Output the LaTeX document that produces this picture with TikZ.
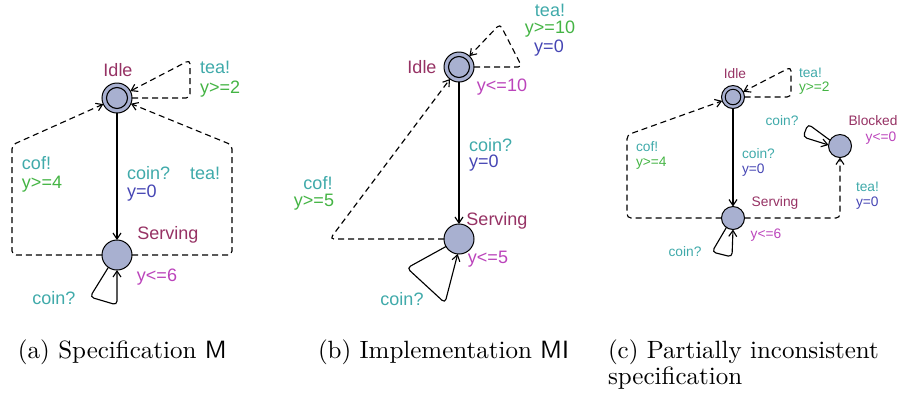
\documentclass[tikz,border=0pt]{standalone}
\usepackage{fontspec}
\newfontfamily\uppfont{Liberation Sans}
\usepackage{tikz}
\usetikzlibrary{arrows.meta,positioning}
\definecolor{locfill}{RGB}{168,176,208}
\definecolor{chancol}{RGB}{64,170,170}
\definecolor{guardcol}{RGB}{68,180,68}
\definecolor{assigncol}{RGB}{70,70,180}
\definecolor{invcol}{RGB}{187,68,187}
\definecolor{namecol}{RGB}{150,50,100}
\newcommand{\bigsize}{\fontsize{7.2}{8.6}\selectfont}
\newcommand{\smallsize}{\fontsize{5.5}{6.6}\selectfont}

\begin{document}
\begin{tikzpicture}[x=0.4pt, y=-0.4pt, outer sep=0pt]
\tikzstyle{loc}=[
                  circle,
                  draw=black,
                  fill=locfill,
                  inner sep=0pt,
                  minimum size=12pt]
\tikzstyle{sloc}=[loc, minimum size=9.2pt]
\tikzstyle{edge}=[
                  -{Straight Barb[length=2.4pt,width=3.2pt]},
                  line width=0.45pt,
                  rounded corners=1.6pt]
\tikzstyle{dedge}=[edge, dash pattern=on 2.4pt off 1.6pt]
\tikzstyle{lbl}=[inner sep=0pt, font=\uppfont\bigsize]
\tikzstyle{slbl}=[inner sep=0pt, font=\uppfont\smallsize]
\tikzstyle{caption}=[inner sep=0pt, anchor=west, font=\normalsize]

\useasboundingbox (0,0) rectangle (901,396);

% (a) specification
\node[loc] (idleA) at (117,98)  {};
\node[loc] (servA) at (117,255) {};
\draw[line width=0.45pt] (idleA.center) circle[radius=4.2pt];

\draw[edge]  (idleA) -- (servA);
\draw[dedge] (idleA.east) -- (190,98) -- (190,60) -- (idleA);
\draw[dedge] (servA.west) -- (12,255) -- (12,145) -- (idleA);
\draw[dedge] (servA.east) -- (232,255) -- (232,145) -- (idleA);
\draw[edge]  (servA.235) -- (90,297) -- (117,305) -- (servA.south);

\node[lbl,text=namecol]               at (118,70)  {Idle};
\node[lbl,text=chancol,anchor=west]   at (200,67)  {tea!};
\node[lbl,text=guardcol,anchor=west]  at (200,89)  {y>=2};
\node[lbl,text=chancol,anchor=west]   at (22,163)  {cof!};
\node[lbl,text=guardcol,anchor=west]  at (22,184)  {y>=4};
\node[lbl,text=chancol,anchor=west]   at (127,173) {coin?};
\node[lbl,text=assigncol,anchor=west] at (127,193) {y=0};
\node[lbl,text=chancol,anchor=west]   at (190,173) {tea!};
\node[lbl,text=namecol]               at (168,235) {Serving};
\node[lbl,text=invcol]                at (157,277) {y<=6};
\node[lbl,text=chancol]               at (54,298)  {coin?};

% (b) implementation
\node[loc] (idleB) at (459,67)  {};
\node[loc] (servB) at (459,239) {};
\draw[line width=0.45pt] (idleB.center) circle[radius=4.2pt];

\draw[edge]  (idleB) -- (servB);
\draw[dedge] (idleB.east) -- (522,67) -- (500,24) -- (idleB);
\draw[dedge] (servB.west) -- (330,239) -- (idleB);
\draw[edge]  (servB.210) -- (407,268) -- (445,303) -- (servB.265);

\node[lbl,text=namecol]               at (422,67)  {Idle};
\node[lbl,text=invcol]                at (502,87)  {y<=10};
\node[lbl,text=chancol]               at (550,10)  {tea!};
\node[lbl,text=guardcol]              at (550,29)  {y>=10};
\node[lbl,text=assigncol]             at (549,48)  {y=0};
\node[lbl,text=chancol,anchor=west]   at (469,145) {coin?};
\node[lbl,text=assigncol,anchor=west] at (469,163) {y=0};
\node[lbl,text=chancol]               at (318,183) {cof!};
\node[lbl,text=guardcol]              at (314,202) {y>=5};
\node[lbl,text=namecol]               at (497,221) {Serving};
\node[lbl,text=invcol]                at (488,259) {y<=5};
\node[lbl,text=chancol]               at (402,299) {coin?};

% (c) partially inconsistent
\node[sloc] (idleC)  at (733,97)  {};
\node[sloc] (servC)  at (733,218) {};
\node[sloc] (blockC) at (840,146) {};
\draw[line width=0.4pt] (idleC.center) circle[radius=3.1pt];

\draw[edge]  (idleC) -- (servC);
\draw[dedge] (idleC.east) -- (791,97) -- (791,67) -- (idleC);
\draw[dedge] (servC.west) -- (627,218) -- (627,135) -- (idleC);
\draw[dedge] (servC.east) -- (840,218) -- (blockC);
\draw[edge]  (blockC.150) -- (808,124) -- (803,137) -- (blockC.175);
\draw[edge]  (servC.235) -- (712,252) -- (732,257) -- (servC.south);

\node[slbl,text=namecol]               at (735,74)  {Idle};
\node[slbl,text=chancol,anchor=west]   at (799,73)  {tea!};
\node[slbl,text=guardcol,anchor=west]  at (799,88)  {y>=2};
\node[slbl,text=chancol,anchor=west]   at (636,147) {cof!};
\node[slbl,text=guardcol,anchor=west]  at (636,163) {y>=4};
\node[slbl,text=chancol,anchor=west]   at (742,154) {coin?};
\node[slbl,text=assigncol,anchor=west] at (742,170) {y=0};
\node[slbl,text=namecol]               at (775,203) {Serving};
\node[slbl,text=invcol]                at (766,235) {y<=6};
\node[slbl,text=chancol]               at (685,252) {coin?};
\node[slbl,text=chancol,anchor=west]   at (856,187) {tea!};
\node[slbl,text=assigncol,anchor=west] at (856,203) {y=0};
\node[slbl,text=namecol]               at (873,121) {Blocked};
\node[slbl,text=invcol]                at (881,138) {y<=0};
\node[slbl,text=chancol]               at (782,121) {coin?};

% captions
\node[caption] (capA)  at (18,352)  {(a) Specification \textsf{M}};
\node[caption] (capB)  at (318,352) {(b) Implementation \textsf{MI}};
\node[caption] (capC)  at (608,352) {(c) Partially inconsistent};
\node[caption] (capC2) at (608,378) {specification};

\end{tikzpicture}
\end{document}
